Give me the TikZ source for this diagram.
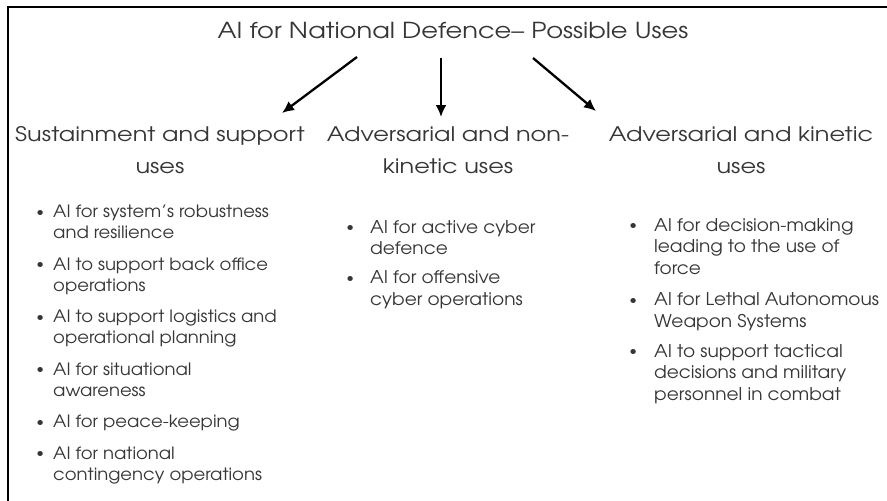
\documentclass[tikz,border=0pt]{standalone}
\usepackage{fontspec}
\setmainfont{texgyreadventor-regular.otf}
\newfontfamily\titlefont{texgyreadventor-regular.otf}[FakeStretch=1.17]
\newfontfamily\headfont{texgyreadventor-regular.otf}[FakeStretch=1.2]
\newfontfamily\listfont{texgyreadventor-regular.otf}[FakeStretch=1.06]
\usetikzlibrary{arrows.meta}
\definecolor{ink}{HTML}{363636}
\newcommand{\bul}[1]{\llap{\raisebox{1.5pt}{\fontsize{14}{14}\selectfont •}\hspace{#1}}}
\tikzset{
  frameline/.style={line width=2pt, black},
  titletext/.style={font=\titlefont\fontsize{22}{26}\selectfont, text=ink, inner sep=0pt, anchor=base},
  heading/.style={font=\headfont\fontsize{20}{32}\selectfont, text=ink, align=center, inner sep=0pt, anchor=base},
  itemlist/.style={font=\listfont\fontsize{17.5}{21.5}\selectfont, text=ink, align=left, inner sep=0pt, anchor=base west},
  branch/.style={line width=2.3pt, black, -{Latex[length=12pt,width=11pt]}},
}
\begin{document}
\begin{tikzpicture}[x=1pt, y=-1pt]
  \useasboundingbox (0,0) rectangle (887,501);
  \fill[white] (0,0) rectangle (887,501);

  % open frame: top and left edges
  \draw[frameline] (7.5,501) -- (7.5,6.5) -- (887,6.5);

  % title
  \node[titletext] (title) at (453,38) {AI for National Defence– Possible Uses};

  % three branches (anchored at the baseline of their last line)
  \node[heading] (sust) at (160,173) {Sustainment and support\\uses};
  \node[heading] (nonkin) at (448,173) {Adversarial and non-\\kinetic uses};
  \node[heading] (kin) at (741,173) {Adversarial and kinetic\\uses};

  \coordinate (t1) at (357,57);  \coordinate (h1) at (282,113);
  \coordinate (t2) at (441,58);  \coordinate (h2) at (441,117);
  \coordinate (t3) at (533,58);  \coordinate (h3) at (596,111);
  \draw[branch] (t1) -- (h1);
  \draw[branch] (t2) -- (h2);
  \draw[branch] (t3) -- (h3);

  % item lists (anchored at the baseline of their last line)
  \node[itemlist, font=\listfont\fontsize{17}{21}\selectfont] (sustlist) at (53,480) {%
    \bul{9pt}AI for system’s robustness\\
    and resilience\\[10.5pt]
    \bul{9pt}AI to support back office\\
    operations\\[10.5pt]
    \bul{9pt}AI to support logistics and\\
    operational planning\\[10.5pt]
    \bul{9pt}AI for situational\\
    awareness\\[10.5pt]
    \bul{9pt}AI for peace-keeping\\[10.5pt]
    \bul{9pt}AI for national\\
    contingency operations};

  \node[itemlist] (nonkinlist) at (370,305) {%
    \bul{16pt}AI for active cyber\\
    defence\\[7.5pt]
    \bul{16pt}AI for offensive\\
    cyber operations};

  \node[itemlist] (kinlist) at (654,400) {%
    \bul{17pt}AI for decision-making\\
    leading to the use of\\
    force\\[10pt]
    \bul{17pt}AI for Lethal Autonomous\\
    Weapon Systems\\[8.5pt]
    \bul{17pt}AI to support tactical\\
    decisions and military\\
    personnel in combat};
\end{tikzpicture}
\end{document}
